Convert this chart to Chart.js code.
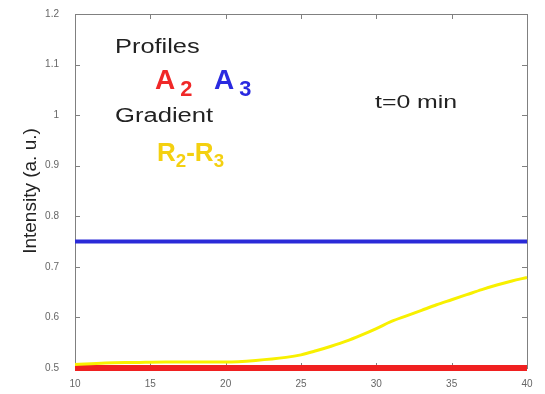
<!DOCTYPE html>
<html>
<head>
<meta charset="utf-8">
<script src="https://cdn.jsdelivr.net/npm/chart.js@4.4.1/dist/chart.umd.min.js"></script>
<style>
  html, body { margin: 0; padding: 0; background: #fff; }
  #wrap { position: relative; width: 545px; height: 394px; }
  .note { position: absolute; font-family: "Liberation Sans", Arial, sans-serif; white-space: nowrap; line-height: 1; transform-origin: 0 0; }
  .note sub { font-size: 0.72em; vertical-align: -0.3em; }
  .big sub { font-size: 0.78em; vertical-align: -0.3em; margin-left: 5px; }
  .bold { font-weight: bold; }
</style>
</head>
<body>
<div id="wrap">
  <canvas id="myChart" width="545" height="394"></canvas>
  <div class="note" style="left:115px;top:36px;font-size:20px;color:#222;transform:scaleX(1.27);">Profiles</div>
  <div class="note bold big" style="left:155px;top:66px;font-size:28px;color:#f02828;">A<sub>2</sub></div>
  <div class="note bold big" style="left:214px;top:66px;font-size:28px;color:#2a2ae0;">A<sub>3</sub></div>
  <div class="note" style="left:115px;top:105px;font-size:20px;color:#222;transform:scaleX(1.28);">Gradient</div>
  <div class="note bold" style="left:157px;top:139px;font-size:26px;color:#f4d010;">R<sub>2</sub>-R<sub>3</sub></div>
  <div class="note" style="left:375px;top:93px;font-size:18px;color:#222;transform:scaleX(1.38);">t=0 min</div>
</div>
<script>
// time axis (min) and intensity profiles
const times = [10, 12, 14, 16, 18, 20, 22, 24, 25, 26, 27, 28, 29, 30, 31, 32, 33, 34, 35, 36, 37, 38, 39, 40];
const profileA2 = [0.5, 0.5, 0.5, 0.5, 0.5, 0.5, 0.5, 0.5, 0.5, 0.5, 0.5, 0.5, 0.5, 0.5, 0.5, 0.5, 0.5, 0.5, 0.5, 0.5, 0.5, 0.5, 0.5, 0.5];
const profileA3 = [0.75, 0.75, 0.75, 0.75, 0.75, 0.75, 0.75, 0.75, 0.75, 0.75, 0.75, 0.75, 0.75, 0.75, 0.75, 0.75, 0.75, 0.75, 0.75, 0.75, 0.75, 0.75, 0.75, 0.75];
const gradientR2R3 = [0.507, 0.510, 0.511, 0.512, 0.512, 0.512, 0.515, 0.521, 0.526, 0.534, 0.543, 0.553, 0.565, 0.578, 0.592, 0.603, 0.614, 0.625, 0.635, 0.645, 0.655, 0.664, 0.672, 0.679];
const xTicks = [10, 15, 20, 25, 30, 35, 40];
const yTicks = [0.5, 0.6, 0.7, 0.8, 0.9, 1, 1.1, 1.2];

const toPoints = (ys) => times.map((t, i) => ({ x: t, y: ys[i] }));

// MATLAB-like box with inward ticks on all four sides, drawn under the lines
const boxTicks = {
  id: "boxTicks",
  beforeDatasetsDraw(chart) {
    const { ctx, chartArea: a, scales } = chart;
    ctx.save();
    ctx.strokeStyle = "#808080";
    ctx.lineWidth = 1;
    ctx.strokeRect(a.left + 0.5, a.top + 0.5, a.right - a.left, a.bottom - a.top);
    ctx.beginPath();
    xTicks.forEach(v => {
      const px = Math.round(scales.x.getPixelForValue(v)) + 0.5;
      ctx.moveTo(px, a.bottom); ctx.lineTo(px, a.bottom - 5);
      ctx.moveTo(px, a.top); ctx.lineTo(px, a.top + 5);
    });
    yTicks.forEach(v => {
      const py = Math.round(scales.y.getPixelForValue(v)) + 0.5;
      ctx.moveTo(a.left, py); ctx.lineTo(a.left + 5, py);
      ctx.moveTo(a.right, py); ctx.lineTo(a.right - 5, py);
    });
    ctx.stroke();
    ctx.restore();
  }
};

const ctx = document.getElementById("myChart").getContext("2d");
const myChart = new Chart(ctx, {
  type: "line",
  data: {
    datasets: [
      { label: "R2-R3", data: toPoints(gradientR2R3), borderColor: "#f8f000", borderWidth: 3, cubicInterpolationMode: "monotone", clip: false },
      { label: "A3", data: toPoints(profileA3), borderColor: "#2a2ad8", borderWidth: 4, clip: false },
      { label: "A2", data: toPoints(profileA2), borderColor: "#f02020", borderWidth: 6, clip: false }
    ]
  },
  options: {
    responsive: false,
    animation: false,
    layout: { padding: { top: 10, right: 18, left: 0, bottom: 0 } },
    elements: { point: { radius: 0 } },
    plugins: { legend: { display: false }, tooltip: { enabled: false } },
    scales: {
      x: {
        type: "linear",
        min: 10,
        max: 40,
        afterBuildTicks: (s) => { s.ticks = xTicks.map(v => ({ value: v })); },
        afterFit: (s) => { s.height = 26; },
        grid: { display: false },
        border: { display: false },
        ticks: { color: "#666", font: { size: 10, family: "Liberation Sans" }, padding: 2 }
      },
      y: {
        min: 0.5,
        max: 1.2,
        afterBuildTicks: (s) => { s.ticks = yTicks.map(v => ({ value: v })); },
        afterFit: (s) => { s.width = 75; },
        grid: { display: false },
        border: { display: false },
        ticks: { color: "#666", font: { size: 10, family: "Liberation Sans" }, padding: 8, callback: (v) => String(+v.toFixed(1)) },
        title: { display: true, text: "Intensity (a. u.)", color: "#222", font: { size: 19, family: "Liberation Sans" }, padding: { top: 19, bottom: 0 } }
      }
    }
  },
  plugins: [boxTicks]
});
</script>
</body>
</html>
